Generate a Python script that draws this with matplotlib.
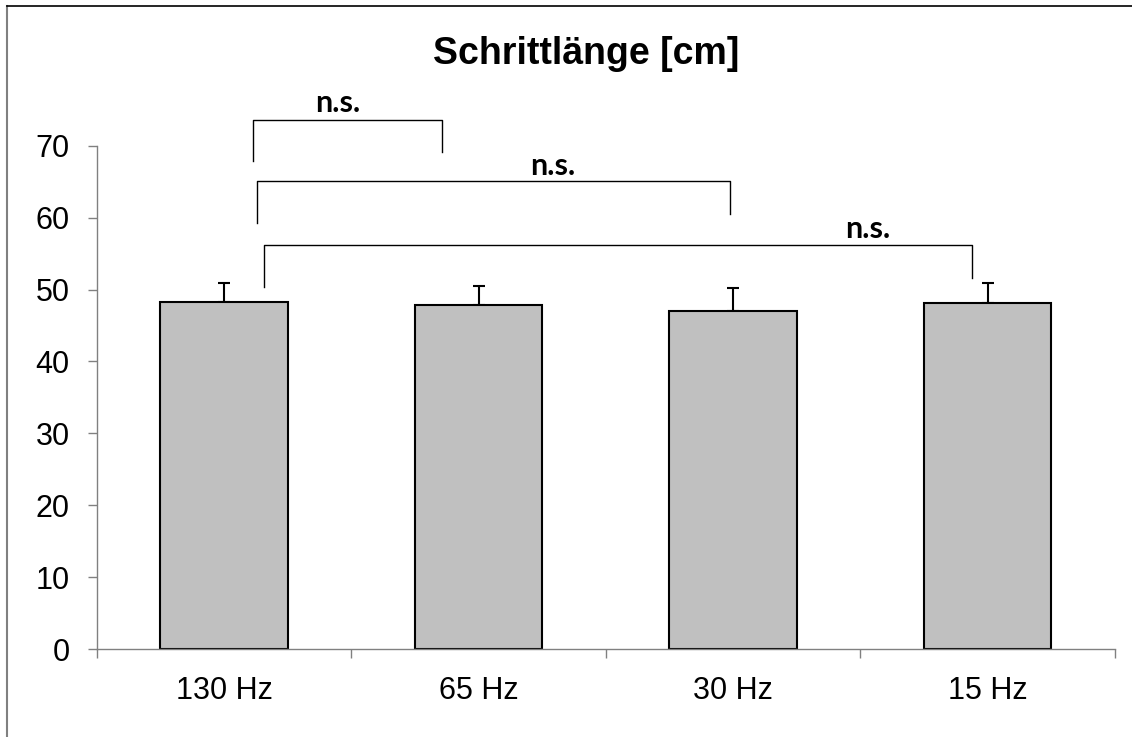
import matplotlib.pyplot as plt
from matplotlib.lines import Line2D

# data
categories = ["130 Hz", "65 Hz", "30 Hz", "15 Hz"]
means = [48.3, 47.9, 47.0, 48.1]
errors = [2.6, 2.6, 3.2, 2.8]

# significance brackets: (x_left, x_right, y_top, y_left_end, y_right_end, label_x, label_y)
bracket_x_left = [0.116, 0.13, 0.159]
bracket_x_right = [0.857, 1.986, 2.937]
bracket_top = [73.6, 65.1, 56.2]
bracket_left_end = [67.9, 59.2, 50.3]
bracket_right_end = [69.1, 60.5, 51.6]
bracket_label_x = [0.446, 1.29, 2.53]
bracket_label_y = [75.9, 67.2, 58.4]
bracket_labels = ["n.s.", "n.s.", "n.s."]

plt.rcParams['font.family'] = ['Liberation Sans', 'DejaVu Sans']

fig = plt.figure(figsize=(11.32, 7.37), dpi=100)
ax = fig.add_axes([0.0854, 0.1194, 0.985 - 0.0854, 0.8023 - 0.1194])

x = list(range(len(categories)))
ax.bar(x, means, width=0.5, color="#c0c0c0", edgecolor="black", linewidth=1.5, zorder=2)
ax.errorbar(x, means, yerr=[[0] * len(errors), errors], fmt="none", ecolor="black",
            elinewidth=1.5, capsize=4.5, capthick=1.5, zorder=1)

for i in range(len(bracket_labels)):
    xl, xr = bracket_x_left[i], bracket_x_right[i]
    ax.plot([xl, xl, xr, xr], [bracket_left_end[i], bracket_top[i], bracket_top[i], bracket_right_end[i]],
            color="black", linewidth=1.0, clip_on=False)
    ax.text(bracket_label_x[i], bracket_label_y[i], bracket_labels[i], ha="center", va="center",
            fontsize=22, fontweight="bold", family=["Lato", "DejaVu Sans"])

ax.set_xlim(-0.5, len(categories) - 0.5)
ax.set_ylim(0, 70)
ax.set_yticks(range(0, 71, 10))
ax.set_xticks(x)
ax.set_xticklabels(categories)
ax.set_xticks([i - 0.5 for i in range(len(categories) + 1)], minor=True)

for s in ["top", "right"]:
    ax.spines[s].set_visible(False)
for s in ["left", "bottom"]:
    ax.spines[s].set_color("#808080")
    ax.spines[s].set_linewidth(1.0)

ax.tick_params(axis="y", direction="out", length=6.5, width=1, color="#808080", pad=13, labelsize=22)
ax.tick_params(axis="x", which="major", length=0, pad=19.5, labelsize=22)
ax.tick_params(axis="x", which="minor", direction="out", length=6.5, width=1, color="#808080")

fig.text(586 / 1132, 1 - 54 / 737, "Schrittlänge [cm]", ha="center", va="center",
         fontsize=27, fontweight="bold")

# outer frame (only left and top edges visible)
fig.add_artist(Line2D([7 / 1132, 7 / 1132], [0, 1 - 6 / 737], color="#808080", linewidth=1.5))
fig.add_artist(Line2D([7 / 1132, 1], [1 - 6 / 737, 1 - 6 / 737], color="black", linewidth=1.2))

fig.savefig("out.png", dpi=100)
